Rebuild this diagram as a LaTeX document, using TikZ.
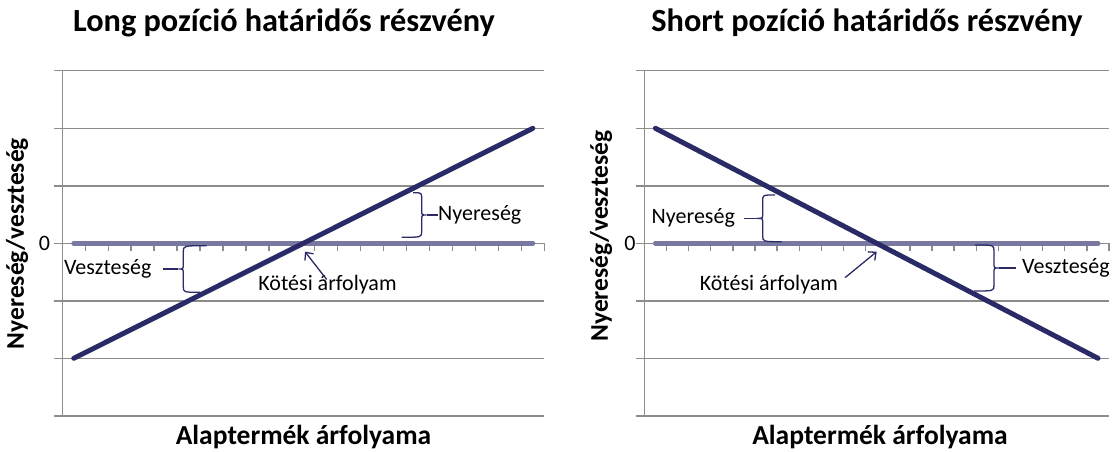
\documentclass[tikz,border=0pt]{standalone}
\usepackage{fontspec}
\setmainfont{Carlito}
\usepackage{tikz}
\usetikzlibrary{arrows.meta, positioning, calc}
\definecolor{payoff}{HTML}{2A2A66}
\definecolor{zeroline}{HTML}{7878A0}
\definecolor{gridgray}{HTML}{8C8C8C}

\begin{document}
\begin{tikzpicture}[
    x=1pt, y=-1pt,
    font=\fontsize{22}{26}\selectfont,
    grid/.style={draw=gridgray, line width=1.4pt},
    zero/.style={draw=zeroline, line width=5pt, line cap=round},
    payline/.style={draw=payoff, line width=5pt, line cap=round},
    bracket/.style={draw=payoff, line width=1.3pt},
    note/.style={inner sep=0pt},
    charttitle/.style={font=\fontsize{32.3}{38}\selectfont\bfseries},
    axistitle/.style={font=\fontsize{27.5}{32}\selectfont\bfseries},
    valuetitle/.style={font=\fontsize{25.5}{30}\selectfont\bfseries}
]
    \useasboundingbox (0,0) rectangle (1119,452);

    % gridlines, axes and category ticks
    \foreach \ax/\ex in {62.3/544.3, 644.3/1109}{
        \foreach \k in {-3,...,3}
            \draw[grid] ({\ax-8},{243.3+57.5*(\k)}) -- (\ex,{243.3+57.5*(\k)});
        \draw[grid] (\ax,70.8) -- (\ax,415.8);
        \foreach \i in {1,...,21}
            \draw[grid] ({\ax+(\ex-\ax)*\i/21},243.3) -- ++(0,8);
    }

    % zero lines and payoffs
    \draw[zero] (73.8,243.3) -- (532.8,243.3);
    \draw[zero] (655.4,243.3) -- (1098,243.3);
    \draw[payline] (73.8,358.3) -- (532.8,128.3);
    \draw[payline] (655.4,128.3) -- (1098,358.3);

    % titles
    \node[charttitle] (titleL) at (284,23) {Long pozíció határidős részvény};
    \node[charttitle] (titleR) at (867,23) {Short pozíció határidős részvény};
    \node[axistitle] (xlabL) at (303.5,437) {Alaptermék árfolyama};
    \node[axistitle] (xlabR) at (880,437) {Alaptermék árfolyama};
    \node[valuetitle, rotate=90] (ylabL) at (17,243.5) {Nyereség/veszteség};
    \node[valuetitle, rotate=90] (ylabR) at (601,236) {Nyereség/veszteség};
    \node (zeroL) at (44.5,243.3) {0};
    \node (zeroR) at (630,243.3) {0};

    % curly braces
    \foreach \sx/\ty/\by/\tx/\bx/\dir/\tip in {421.7/192.7/237.3/413/401.7/1/tipGL,
        183.3/245.7/292.3/206.7/200/-1/tipLL, 762.7/195/241.7/775/781.7/-1/tipGR,
        994/245/291/975/974/1/tipLR}{
        \pgfmathsetmacro\my{(\ty+\by)/2}
        \draw[bracket] (\tx,\ty) .. controls (\sx,\ty) .. (\sx,{\ty+6})
            -- (\sx,{\my-5}) .. controls (\sx,\my) .. ({\sx+5*(\dir)},\my)
            .. controls (\sx,\my) .. (\sx,{\my+5})
            -- (\sx,{\by-6}) .. controls (\sx,\by) .. (\bx,\by);
        \coordinate (\tip) at ({\sx+5*(\dir)},\my);
    }

    \node[note, right=11.3pt of tipGL] (gainL) {Nyereség};
    \draw[bracket] (tipGL) -- (gainL);
    \node[note, left=26.6pt of tipLL] (lossL) {Veszteség};
    \draw[bracket, shorten >=11.7pt] (tipLL) -- (lossL);
    \node[note, left=22.7pt of tipGR] (gainR) {Nyereség};
    \draw[bracket, shorten >=9pt] (tipGR) -- (gainR);
    \node[note, right=23pt of tipLR] (lossR) {Veszteség};
    \draw[bracket, shorten >=6pt] (tipLR) -- (lossR);

    % strike price
    \node[note] (strikeL) at (327.5,285) {Kötési árfolyam};
    \node[note] (strikeR) at (768.9,285) {Kötési árfolyam};
    \coordinate (tailL) at (326.7,279.5);
    \coordinate (crossL) at (305,251.7);
    \coordinate (tailR) at (845,277.7);
    \coordinate (crossR) at (876.7,251.7);
    \draw[bracket, -{Straight Barb[length=6pt,width=11pt]}] (tailL) -- (crossL);
    \draw[bracket, -{Straight Barb[length=6pt,width=11pt]}] (tailR) -- (crossR);

\end{tikzpicture}
\end{document}
